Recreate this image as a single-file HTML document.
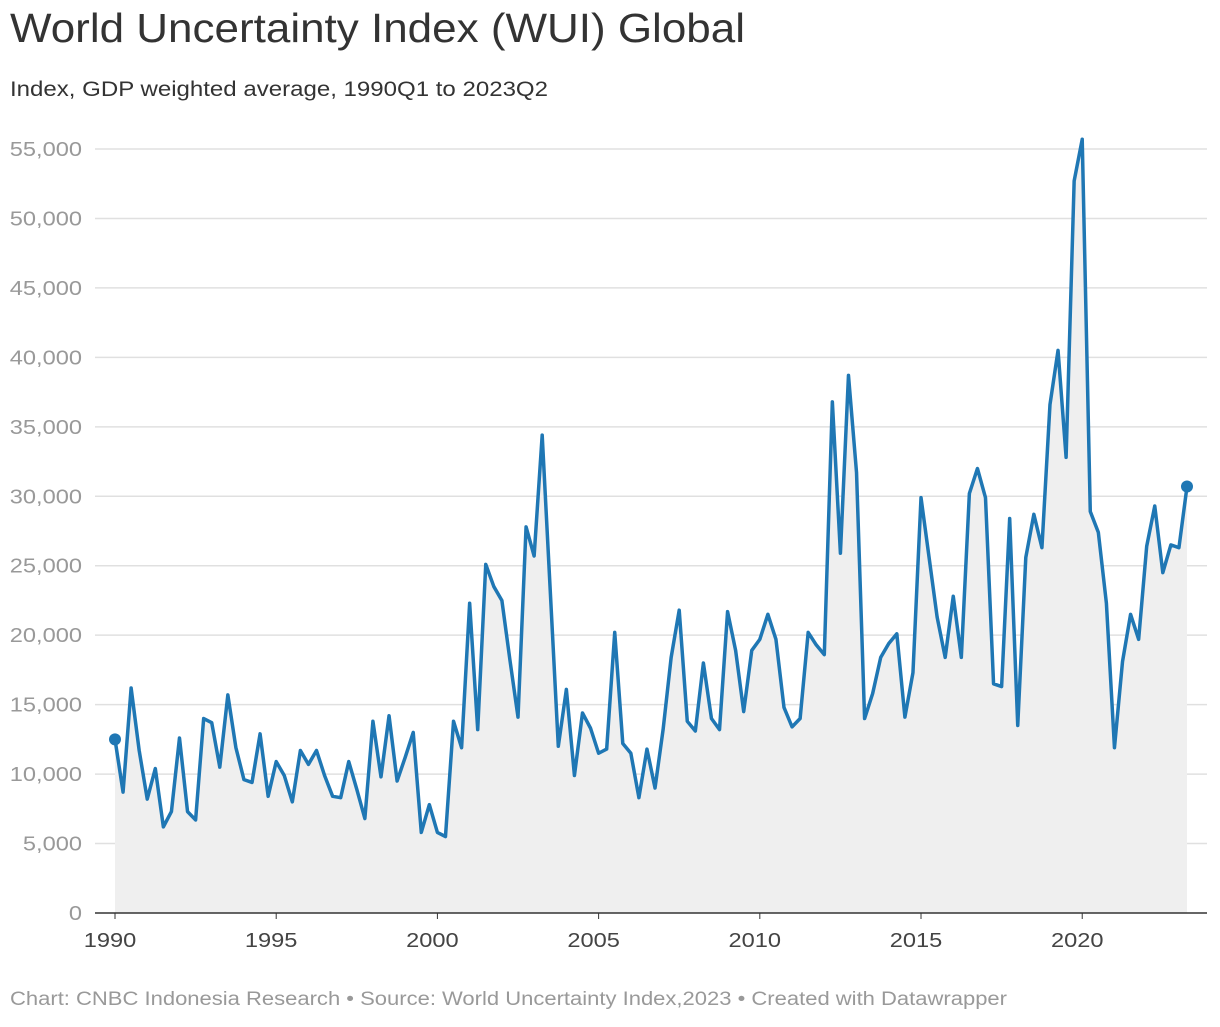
<!DOCTYPE html>
<html><head><meta charset="utf-8"><style>
body{margin:0;background:#fff;font-family:"Liberation Sans",sans-serif;}
svg text{font-family:"Liberation Sans",sans-serif;}
</style></head><body>
<svg id="chart" width="1220" height="1022" xmlns="http://www.w3.org/2000/svg">
<text x="10" y="42" font-size="41" fill="#333" textLength="735" lengthAdjust="spacingAndGlyphs">World Uncertainty Index (WUI) Global</text>
<text x="10" y="96" font-size="21" fill="#333" textLength="538" lengthAdjust="spacingAndGlyphs">Index, GDP weighted average, 1990Q1 to 2023Q2</text>
<g id="grid"></g><g id="plot"></g><g id="xaxis"></g>
<text x="10" y="1005" font-size="19" fill="#999" textLength="997" lengthAdjust="spacingAndGlyphs">Chart: CNBC Indonesia Research • Source: World Uncertainty Index,2023 • Created with Datawrapper</text>
</svg>
<script>
const startYear = 1990;
const values = [12.5,8.7,16.2,11.7,8.2,10.4,6.2,7.3,12.6,7.3,6.7,14.0,13.7,10.5,15.7,11.9,9.6,9.4,12.9,8.4,10.9,9.9,8.0,11.7,10.7,11.7,9.9,8.4,8.3,10.9,8.9,6.8,13.8,9.8,14.2,9.5,11.2,13.0,5.8,7.8,5.8,5.5,
13.8,11.9,22.3,13.2,25.1,23.5,22.5,18.2,14.1,27.8,25.7,34.4,23.2,12.0,16.1,9.9,14.4,13.3,11.5,11.8,20.2,12.2,11.5,8.3,11.8,9.0,13.2,18.4,21.8,13.8,13.1,18.0,14.0,13.2,21.7,18.9,14.5,18.9,19.7,21.5,19.7,14.8,13.4,14.0,20.2,19.3,
18.6,36.8,25.9,38.7,31.7,14.0,15.8,18.4,19.4,20.1,14.1,17.3,29.9,25.6,21.3,18.4,22.8,18.4,30.2,32.0,29.9,16.5,16.3,28.4,13.5,25.6,28.7,26.3,36.6,40.5,32.8,52.7,55.7,28.9,27.4,22.3,11.9,18.1,21.5,19.7,26.4,29.3,24.5,26.5,26.3,30.7].map(v=>v*1000);
const yTicks = [0,5000,10000,15000,20000,25000,30000,35000,40000,45000,50000,55000];
const xTicks = [1990,1995,2000,2005,2010,2015,2020];
const NS="http://www.w3.org/2000/svg";
const pxPerYear = 1072/133*4;
function x(year){return 115+(year-startYear)*pxPerYear;}
function y(v){return 913-v*764/55000;}
function mk(t,a,p){const e=document.createElementNS(NS,t);for(const k in a)e.setAttribute(k,a[k]);p.appendChild(e);return e;}
function widen(el,f){const w=el.getComputedTextLength();el.setAttribute('textLength',w*f);el.setAttribute('lengthAdjust','spacingAndGlyphs');}
const grid=document.getElementById('grid');
yTicks.forEach(t=>{
  if(t>0){const l=mk('line',{x1:95,x2:1207,y1:y(t),y2:y(t),stroke:'#e0e0e0','stroke-width':1.5},grid);
  
  }
  const tx=mk('text',{x:82,y:y(t)+7,'text-anchor':'end','font-size':20,fill:'#999'},grid);
  tx.textContent=t.toLocaleString('en-US');
  
  
  widen(tx,1.18);
});
const plot=document.getElementById('plot');
const pts=values.map((v,i)=>[x(startYear+i/4),y(v)]);
const area=mk('path',{d:'M'+pts[0][0]+','+y(0)+pts.map(p=>'L'+p[0]+','+p[1]).join('')+'L'+pts[pts.length-1][0]+','+y(0)+'Z',fill:'#efefef'},plot);


const line=mk('path',{d:pts.map((p,i)=>(i?'L':'M')+p[0]+','+p[1]).join(''),fill:'none',stroke:'#1f77b4','stroke-width':3.5,'stroke-linejoin':'round'},plot);


[0,pts.length-1].forEach(i=>{
  const c=mk('circle',{cx:pts[i][0],cy:pts[i][1],r:6,fill:'#1f77b4'},plot);
  
  
});
const xa=document.getElementById('xaxis');
const base=mk('line',{x1:95,x2:1207,y1:y(0),y2:y(0),stroke:'#333','stroke-width':1.5},xa);


xTicks.forEach(t=>{
  const tk=mk('line',{x1:x(t),x2:x(t),y1:y(0),y2:y(0)+6,stroke:'#333','stroke-width':1},xa);
  
  
  const tx=mk('text',{x:x(t)-5,y:y(0)+34,'text-anchor':'middle','font-size':20,fill:'#444'},xa);
  tx.textContent=t;
  
  
  widen(tx,1.18);
});
</script>
</body></html>
